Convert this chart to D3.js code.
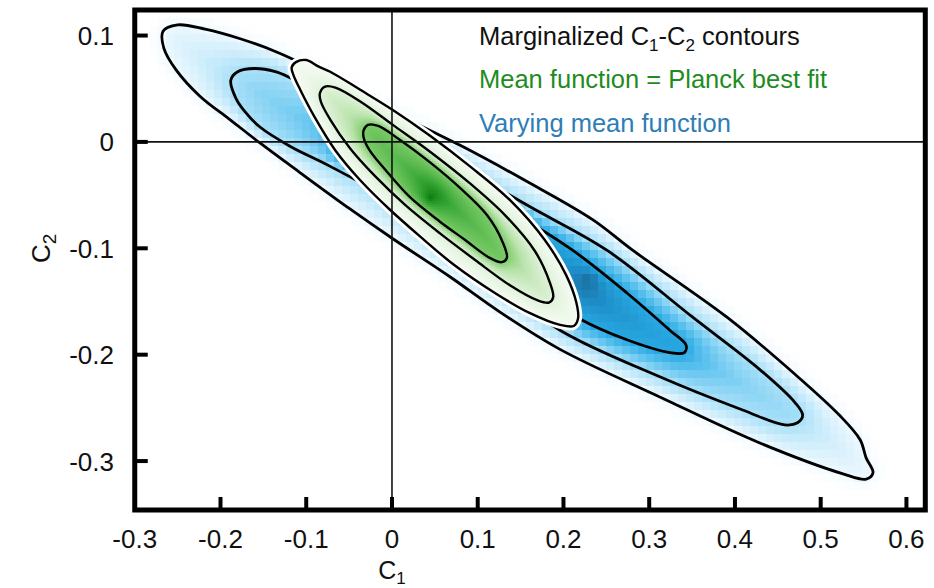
<!DOCTYPE html>
<html>
<head>
<meta charset="utf-8">
<script src="https://cdn.jsdelivr.net/npm/d3@7"></script>
<style>
  body { margin: 0; background: #fff; }
  svg { display: block; font-family: "Liberation Sans", Arial, Helvetica, sans-serif; }
</style>
</head>
<body>
<svg id="chart" width="934" height="588"></svg>
<script>
// ---- axis ticks ----
const xTicks = [-0.3, -0.2, -0.1, 0, 0.1, 0.2, 0.3, 0.4, 0.5, 0.6];
const xTickLabels = ["-0.3", "-0.2", "-0.1", "0", "0.1", "0.2", "0.3", "0.4", "0.5", "0.6"];
const yTicks = [0.1, 0, -0.1, -0.2, -0.3];
const yTickLabels = ["0.1", "0", "-0.1", "-0.2", "-0.3"];

// ---- varying mean function: C1-C2 contours (outer, middle, inner) ----
const blueOuter = [
  [-0.267, 0.104], [-0.250, 0.110], [-0.218, 0.106], [-0.177, 0.097], [-0.136, 0.085],
  [-0.096, 0.070], [-0.049, 0.049], [0.001, 0.028], [0.079, -0.003], [0.157, -0.037],
  [0.234, -0.073], [0.281, -0.102], [0.391, -0.165], [0.468, -0.217], [0.522, -0.257],
  [0.546, -0.280], [0.553, -0.297], [0.561, -0.311], [0.553, -0.317], [0.526, -0.312],
  [0.429, -0.283], [0.313, -0.240], [0.196, -0.195], [0.126, -0.160], [0.068, -0.127],
  [0.001, -0.091], [-0.049, -0.063], [-0.107, -0.029], [-0.154, -0.001], [-0.189, 0.021],
  [-0.224, 0.043], [-0.252, 0.068], [-0.266, 0.088]
];
const blueMiddle = [
  [-0.188, 0.058], [-0.180, 0.066], [-0.160, 0.069], [-0.136, 0.066], [-0.115, 0.059],
  [-0.072, 0.043], [0.001, 0.013], [0.079, -0.023], [0.161, -0.061], [0.251, -0.102],
  [0.351, -0.165], [0.429, -0.214], [0.470, -0.245], [0.479, -0.257], [0.473, -0.264],
  [0.458, -0.266], [0.409, -0.252], [0.313, -0.221], [0.196, -0.177], [0.126, -0.134],
  [0.068, -0.098], [0.001, -0.056], [-0.072, -0.023], [-0.119, -0.004], [-0.154, 0.014],
  [-0.171, 0.028], [-0.182, 0.041]
];
const blueInner = [
  [-0.063, -0.004], [-0.058, 0.002], [-0.047, 0.001], [0.001, -0.017], [0.079, -0.047],
  [0.149, -0.071], [0.211, -0.102], [0.274, -0.142], [0.324, -0.177], [0.343, -0.191],
  [0.341, -0.198], [0.324, -0.198], [0.274, -0.186], [0.216, -0.165], [0.149, -0.129],
  [0.079, -0.089], [0.009, -0.051], [-0.026, -0.031], [-0.051, -0.017], [-0.062, -0.010]
];
const bluePeak = [0.23, -0.13];

// ---- mean function fixed to the Planck best fit ----
const greenOuter = [
  [-0.117, 0.070], [-0.112, 0.075], [-0.100, 0.077], [-0.086, 0.071], [-0.072, 0.066],
  [-0.037, 0.049], [0.001, 0.030], [0.044, 0.006], [0.091, -0.023], [0.138, -0.055],
  [0.178, -0.092], [0.203, -0.125], [0.215, -0.151], [0.217, -0.166], [0.212, -0.173],
  [0.196, -0.172], [0.161, -0.161], [0.120, -0.142], [0.073, -0.116], [0.033, -0.089],
  [-0.002, -0.064], [-0.037, -0.036], [-0.066, -0.008], [-0.090, 0.023], [-0.107, 0.049],
  [-0.115, 0.063]
];
const greenMiddle = [
  [-0.084, 0.046], [-0.078, 0.052], [-0.066, 0.051], [-0.037, 0.038], [0.001, 0.016],
  [0.044, -0.009], [0.091, -0.039], [0.132, -0.069], [0.167, -0.103], [0.184, -0.132],
  [0.188, -0.146], [0.183, -0.151], [0.170, -0.149], [0.138, -0.135], [0.097, -0.111],
  [0.056, -0.086], [0.015, -0.059], [-0.020, -0.032], [-0.049, -0.006], [-0.072, 0.021],
  [-0.083, 0.038]
];
const greenInner = [
  [-0.033, 0.011], [-0.028, 0.016], [-0.016, 0.015], [0.009, 0.002], [0.044, -0.019],
  [0.079, -0.043], [0.111, -0.069], [0.129, -0.094], [0.134, -0.109], [0.128, -0.113],
  [0.114, -0.109], [0.085, -0.092], [0.056, -0.075], [0.021, -0.052], [-0.008, -0.026],
  [-0.026, -0.008], [-0.033, 0.004]
];
const greenPeak = [0.045, -0.052];

// ---- legend ----
const legendTitle = ["Marginalized C", "1", "-C", "2", " contours"];
const legendSeries = ["Mean function = Planck best fit", "Varying mean function"];
const legendColors = ["#1f8c1f", "#2f7db6"];

// ---------------------------------------------------------------
const svg = d3.select("#chart");
const x = d3.scaleLinear().domain([-0.3, 0.622]).range([134.75, 925.3]);
const y = d3.scaleLinear().domain([-0.346, 0.124]).range([510, 10]);

const contourLine = d3.line()
  .x(d => x(d[0])).y(d => y(d[1]))
  .curve(d3.curveCatmullRomClosed.alpha(0.5));

svg.append("defs").append("clipPath").attr("id", "plotClip")
  .append("rect")
  .attr("x", x(-0.3)).attr("y", y(0.124))
  .attr("width", x(0.622) - x(-0.3)).attr("height", y(-0.346) - y(0.124));

// sample the smoothed contour into a dense pixel polygon
function sampleContour(pts, n = 280) {
  const p = svg.append("path").attr("d", contourLine(pts)).attr("fill", "none");
  const node = p.node();
  const L = node.getTotalLength();
  const out = [];
  for (let i = 0; i < n; i++) {
    const q = node.getPointAtLength(L * i / n);
    out.push([q.x, q.y]);
  }
  p.remove();
  return out;
}
function distToPoly(poly, px, py) {
  let m = Infinity;
  for (let i = 0, j = poly.length - 1; i < poly.length; j = i++) {
    const ax = poly[j][0], ay = poly[j][1], bx = poly[i][0], by = poly[i][1];
    const dx = bx - ax, dy = by - ay, l2 = dx * dx + dy * dy;
    let t = l2 ? ((px - ax) * dx + (py - ay) * dy) / l2 : 0;
    t = t < 0 ? 0 : t > 1 ? 1 : t;
    const ex = ax + t * dx - px, ey = ay + t * dy - py;
    const d = ex * ex + ey * ey;
    if (d < m) m = d;
  }
  return Math.sqrt(m);
}
// level value: 1 on the outer contour, 2 on the middle, 3 on the inner, 4 at the peak
function level(polys, peak, px, py, halo) {
  let k = 0;
  while (k < 3 && d3.polygonContains(polys[k], [px, py])) k++;
  if (k === 0) {
    const d = distToPoly(polys[0], px, py);
    return Math.max(0, 1 - d / halo) * 0.6;
  }
  if (k < 3) {
    const di = distToPoly(polys[k - 1], px, py);
    const dout = distToPoly(polys[k], px, py);
    return k + di / (di + dout);
  }
  const d = distToPoly(polys[2], px, py);
  const dp = Math.hypot(px - peak[0], py - peak[1]);
  return 3 + d / (d + dp);
}

const blueColor = d3.scaleLinear()
  .domain([0, 1, 2, 2.5, 3, 3.5, 4])
  .range(["#ffffff", "#ecf8fe", "#a9e0f8", "#5fc3ef", "#27a8e2", "#1d8bc4", "#1b6590"])
  .clamp(true);
const greenColor = d3.scaleLinear()
  .domain([0, 1, 2, 2.5, 3, 3.5, 4])
  .range(["#ffffff", "#f6fbf4", "#e0f2da", "#b9e3ab", "#7bcb68", "#34a532", "#07780d"])
  .clamp(true);

const bluePolys = [blueOuter, blueMiddle, blueInner].map(p => sampleContour(p));
const greenPolys = [greenOuter, greenMiddle, greenInner].map(p => sampleContour(p));
const bluePeakPx = [x(bluePeak[0]), y(bluePeak[1])];
const greenPeakPx = [x(greenPeak[0]), y(greenPeak[1])];

const plot = svg.append("g").attr("clip-path", "url(#plotClip)");

// blue density cells (coarse grid)
const blueCells = [];
const bStep = 8;
for (let gx = Math.floor(x(-0.3)); gx < x(0.622); gx += bStep) {
  for (let gy = Math.floor(y(0.124)); gy < y(-0.346); gy += bStep) {
    const v = level(bluePolys, bluePeakPx, gx + bStep / 2, gy + bStep / 2, 14);
    if (v > 0.02) blueCells.push({ c1: x.invert(gx), c2: y.invert(gy), v });
  }
}
plot.append("g").attr("shape-rendering", "crispEdges")
  .selectAll("rect").data(blueCells).join("rect")
  .attr("x", d => x(d.c1)).attr("y", d => y(d.c2))
  .attr("width", bStep).attr("height", bStep)
  .attr("fill", d => blueColor(d.v));

plot.append("g").selectAll("path").data([blueOuter, blueMiddle, blueInner]).join("path")
  .attr("d", contourLine).attr("fill", "none")
  .attr("stroke", "#000").attr("stroke-width", 2.8);

// white backing for the fixed-mean contours
plot.append("path").attr("d", contourLine(greenOuter))
  .attr("fill", "#fff").attr("stroke", "#fff").attr("stroke-width", 8)
  .attr("stroke-linejoin", "round");

// green density cells (fine grid)
const gb = greenPolys[0];
const gx0 = Math.floor(d3.min(gb, d => d[0])) - 2, gx1 = Math.ceil(d3.max(gb, d => d[0])) + 2;
const gy0 = Math.floor(d3.min(gb, d => d[1])) - 2, gy1 = Math.ceil(d3.max(gb, d => d[1])) + 2;
const greenCells = [];
const gStep = 2;
for (let gx = gx0; gx < gx1; gx += gStep) {
  for (let gy = gy0; gy < gy1; gy += gStep) {
    const cx = gx + gStep / 2, cy = gy + gStep / 2;
    if (!d3.polygonContains(gb, [cx, cy])) continue;
    const v = level(greenPolys, greenPeakPx, cx, cy, 1);
    greenCells.push({ c1: x.invert(gx), c2: y.invert(gy), v });
  }
}
plot.append("g").attr("shape-rendering", "crispEdges")
  .selectAll("rect").data(greenCells).join("rect")
  .attr("x", d => x(d.c1)).attr("y", d => y(d.c2))
  .attr("width", gStep).attr("height", gStep)
  .attr("fill", d => greenColor(d.v));

plot.append("g").selectAll("path").data([greenOuter, greenMiddle, greenInner]).join("path")
  .attr("d", contourLine).attr("fill", "none")
  .attr("stroke", "#000").attr("stroke-width", 2.4);

// zero lines
plot.append("line")
  .attr("x1", x(0)).attr("x2", x(0)).attr("y1", y(0.124)).attr("y2", y(-0.346))
  .attr("stroke", "#111").attr("stroke-width", 1.6);
plot.append("line")
  .attr("x1", x(-0.3)).attr("x2", x(0.622)).attr("y1", y(0)).attr("y2", y(0))
  .attr("stroke", "#111").attr("stroke-width", 1.6);

// frame
svg.append("rect")
  .attr("x", x(-0.3)).attr("y", y(0.124))
  .attr("width", x(0.622) - x(-0.3)).attr("height", y(-0.346) - y(0.124))
  .attr("fill", "none").attr("stroke", "#000").attr("stroke-width", 5);

// ticks
svg.append("g").selectAll("line").data(xTicks.slice(1)).join("line")
  .attr("x1", d => x(d)).attr("x2", d => x(d))
  .attr("y1", y(-0.346)).attr("y2", y(-0.346) - 13)
  .attr("stroke", "#000").attr("stroke-width", 4);
svg.append("g").selectAll("line").data(yTicks).join("line")
  .attr("x1", x(-0.3)).attr("x2", x(-0.3) + 13)
  .attr("y1", d => y(d)).attr("y2", d => y(d))
  .attr("stroke", "#000").attr("stroke-width", 4);

svg.append("g").selectAll("text").data(xTicks).join("text")
  .attr("x", d => x(d)).attr("y", 548)
  .attr("text-anchor", "middle").attr("font-size", 26).attr("fill", "#111")
  .text((d, i) => xTickLabels[i]);
svg.append("g").selectAll("text").data(yTicks).join("text")
  .attr("x", 114).attr("y", d => y(d) + 9.5)
  .attr("text-anchor", "end").attr("font-size", 26).attr("fill", "#111")
  .text((d, i) => yTickLabels[i]);

// axis titles
const xTitle = svg.append("text").attr("x", x(0)).attr("y", 579)
  .attr("text-anchor", "middle").attr("font-size", 25).attr("fill", "#111");
xTitle.append("tspan").text("C");
xTitle.append("tspan").attr("font-size", 17).attr("dy", 5).text("1");

const yTitle = svg.append("text")
  .attr("transform", `translate(50,${y(-0.1)}) rotate(-90)`)
  .attr("text-anchor", "middle").attr("font-size", 26).attr("fill", "#111");
yTitle.append("tspan").text("C");
yTitle.append("tspan").attr("font-size", 19).attr("dy", 6).text("2");

// legend
const lx = 479;
const lt = svg.append("text").attr("x", lx).attr("y", 44.5)
  .attr("font-size", 25.5).attr("fill", "#111");
lt.append("tspan").text(legendTitle[0]);
lt.append("tspan").attr("font-size", 17).attr("dy", 6).text(legendTitle[1]);
lt.append("tspan").attr("dy", -6).text(legendTitle[2]);
lt.append("tspan").attr("font-size", 17).attr("dy", 6).text(legendTitle[3]);
lt.append("tspan").attr("dy", -6).text(legendTitle[4]);
svg.append("g").selectAll("text").data(legendSeries).join("text")
  .attr("x", lx).attr("y", (d, i) => 88 + i * 44)
  .attr("font-size", 25.5).attr("fill", (d, i) => legendColors[i])
  .text(d => d);
</script>
</body>
</html>
